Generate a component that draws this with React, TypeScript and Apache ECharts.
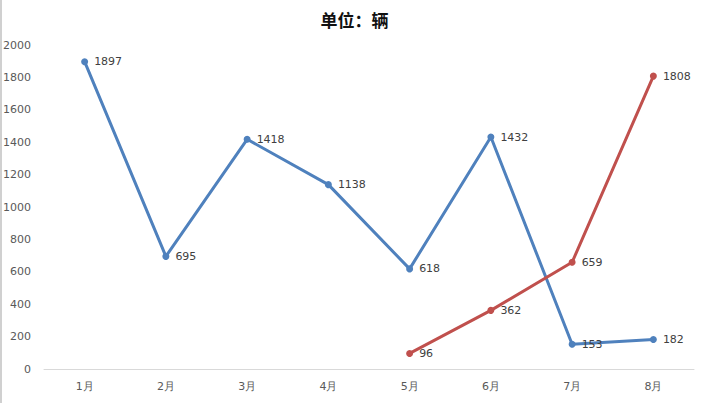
import React, { useEffect, useRef } from "react";
import * as echarts from "echarts";

const categories = ["1月", "2月", "3月", "4月", "5月", "6月", "7月", "8月"];
const seriesA = [1897, 695, 1418, 1138, 618, 1432, 153, 182];
const seriesB = [null, null, null, null, 96, 362, 659, 1808];
const subtitle = "单位：辆";

export default function App() {
  const ref = useRef<HTMLDivElement>(null);
  useEffect(() => {
    const chart = echarts.init(ref.current!, null, { renderer: "svg" });
    const label = {
      show: true,
      position: "right" as const,
      distance: 6,
      color: "#404040",
      fontSize: 11,
      fontFamily: "DejaVu Sans",
    };
    chart.setOption({
      animation: false,
      backgroundColor: "#ffffff",
      title: {
        text: subtitle,
        left: "center",
        top: 6,
        textStyle: { fontSize: 17, fontWeight: "bold", color: "#111", fontFamily: "Noto Sans CJK SC" },
      },
      graphic: [
        { type: "rect", left: 0, top: 0, shape: { width: 2, height: 403 }, style: { fill: "#d0d0d0" } },
      ],
      grid: { left: 44, right: 15, top: 45, bottom: 34, containLabel: false, outerBoundsMode: "none" },
      xAxis: {
        type: "category",
        data: categories,
        boundaryGap: true,
        axisLine: { lineStyle: { color: "#d9d9d9", width: 1 } },
        axisTick: { show: false },
        axisLabel: { color: "#595959", fontSize: 11, margin: 12, fontFamily: "DejaVu Sans" },
      },
      yAxis: {
        type: "value",
        min: 0,
        max: 2000,
        interval: 200,
        axisLine: { show: false },
        axisTick: { show: false },
        splitLine: { show: false },
        axisLabel: {
          color: "#595959",
          fontSize: 11,
          margin: 13,
          fontFamily: "DejaVu Sans",
          formatter: (v: number) => String(v),
        },
      },
      series: [
        {
          type: "line",
          data: seriesA,
          symbol: "circle",
          symbolSize: 7,
          lineStyle: { color: "#4F81BD", width: 3 },
          itemStyle: { color: "#4F81BD" },
          label,
        },
        {
          type: "line",
          data: seriesB,
          symbol: "circle",
          symbolSize: 7,
          lineStyle: { color: "#C0504D", width: 3 },
          itemStyle: { color: "#C0504D" },
          label,
        },
      ],
    });
    return () => chart.dispose();
  }, []);
  return <div ref={ref} style={{ width: 709, height: 403, position: "fixed", left: 0, top: 0 }} />;
}
